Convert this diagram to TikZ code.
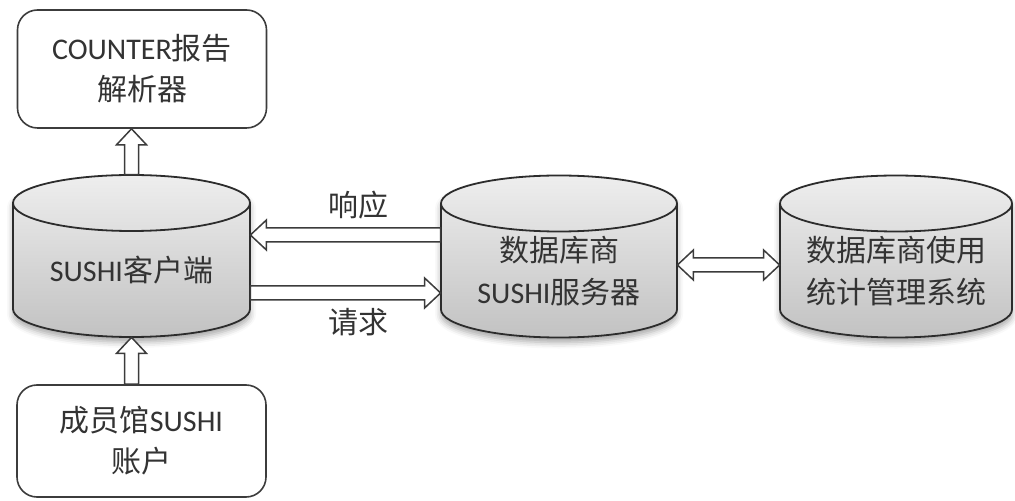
\documentclass[tikz,border=0pt]{standalone}
\usepackage{fontspec}
\setmainfont{Carlito}
\newfontfamily\cjk{Noto Sans CJK SC}
\usetikzlibrary{calc,shadows.blur}

\definecolor{edge}{HTML}{3C3C3C}
\definecolor{dbedge}{HTML}{2C2C2C}
\definecolor{ink}{HTML}{333333}
\definecolor{dbtop}{HTML}{EEEEEE}
\definecolor{dbbot}{HTML}{C2C2C2}

% arrow sizes
\newcommand{\shaftw}{3.5pt}
\newcommand{\headw}{7.5pt}
\newcommand{\headl}{8pt}

% hollow block arrow, #1 -> #2
\newcommand{\blockarrow}[2]{%
  \draw[hollow] ($(#1)!\shaftw!90:(#2)$)
    -- ($($(#2)!\headl!(#1)$)!\shaftw!-90:(#1)$)
    -- ($($(#2)!\headl!(#1)$)!\headw!-90:(#1)$)
    -- (#2)
    -- ($($(#2)!\headl!(#1)$)!\headw!90:(#1)$)
    -- ($($(#2)!\headl!(#1)$)!\shaftw!90:(#1)$)
    -- ($(#1)!\shaftw!-90:(#2)$) -- cycle;}

% hollow block arrow with two heads
\newcommand{\dblockarrow}[2]{%
  \draw[hollow] (#1)
    -- ($($(#1)!\headl!(#2)$)!\headw!90:(#2)$)
    -- ($($(#1)!\headl!(#2)$)!\shaftw!90:(#2)$)
    -- ($($(#2)!\headl!(#1)$)!\shaftw!-90:(#1)$)
    -- ($($(#2)!\headl!(#1)$)!\headw!-90:(#1)$)
    -- (#2)
    -- ($($(#2)!\headl!(#1)$)!\headw!90:(#1)$)
    -- ($($(#2)!\headl!(#1)$)!\shaftw!90:(#1)$)
    -- ($($(#1)!\headl!(#2)$)!\shaftw!-90:(#2)$)
    -- ($($(#1)!\headl!(#2)$)!\headw!-90:(#2)$) -- cycle;}

% database drum: #1 name, #2 centre, #3 half width (px)
\newcommand{\database}[3]{%
  \begin{scope}[shift={(#2)}]
    \draw[dbbody] (-#3,-53) -- (-#3,53)
      arc[start angle=180,end angle=360,x radius=#3*0.5pt,y radius=14pt]
      -- (#3,-53)
      arc[start angle=0,end angle=180,x radius=#3*0.5pt,y radius=14pt] -- cycle;
    \draw[dbrim] (-#3,-53)
      arc[start angle=180,end angle=360,x radius=#3*0.5pt,y radius=14pt];
    \node[dbfit,minimum width=#3pt] (#1) at (0,0) {};
  \end{scope}}

\begin{document}
\begin{tikzpicture}[
    x=0.5pt,y=-0.5pt,
    box/.style={draw=edge,line width=0.8pt,rounded corners=10pt,fill=white,
        minimum width=124.5pt,minimum height=59pt,align=center,text=ink,
        font=\fontsize{15}{20.5}\selectfont},
    dbbody/.style={draw=dbedge,line width=0.9pt,top color=dbtop,bottom color=dbbot,
        blur shadow={shadow xshift=0pt,shadow yshift=-2.5pt,shadow blur radius=3pt,shadow opacity=35}},
    dbrim/.style={draw=dbedge,line width=0.9pt},
    dbfit/.style={inner sep=0pt,minimum height=81pt},
    dbtext/.style={align=center,text=ink,font=\fontsize{15}{21}\selectfont},
    note/.style={text=ink,font=\fontsize{15}{18}\selectfont},
    hollow/.style={draw=edge,fill=white,line width=0.75pt,line join=miter},
]
    \useasboundingbox (0,0) rectangle (1015,501);

    \node[box] (parser) at (142,69) {COUNTER{\cjk 报告}\\{\cjk 解析器}};
    \node[box,minimum height=56pt] (account) at (141.5,441) {{\cjk 成员馆}SUSHI\\{\cjk 账户}};

    \database{client}{131.5,256}{118.5}
    \database{server}{559,256.5}{118}
    \database{stats}{896,256.5}{116}

    \node[dbtext] (clientname) at ([yshift=-7pt]client.center) {SUSHI{\cjk 客户端}};
    \node[dbtext] (servername) at ([yshift=-7.5pt]server.center) {{\cjk 数据库商}\\SUSHI{\cjk 服务器}};
    \node[dbtext] (statsname) at ([yshift=-7.5pt]stats.center) {{\cjk 数据库商使用}\\{\cjk 统计管理系统}};

    % arrow ends on the drum sides
    \coordinate (resp tail) at (server.west |- 0,235);
    \coordinate (resp tip) at (client.east |- 0,235);
    \coordinate (req tail) at (client.east |- 0,293);
    \coordinate (req tip) at (server.west |- 0,293);
    \coordinate (sync a) at (server.east |- 0,265);
    \coordinate (sync b) at (stats.west |- 0,265);
    \coordinate (parse tip) at (client.north |- parser.south);
    \coordinate (login tail) at (client.south |- account.north);

    \blockarrow{client.north}{parse tip}
    \blockarrow{login tail}{client.south}
    \blockarrow{resp tail}{resp tip}
    \blockarrow{req tail}{req tip}
    \dblockarrow{sync a}{sync b}

    \node[note] (resp) at (358,205) {\cjk 响应};
    \node[note] (req) at (358,322) {\cjk 请求};
\end{tikzpicture}
\end{document}
